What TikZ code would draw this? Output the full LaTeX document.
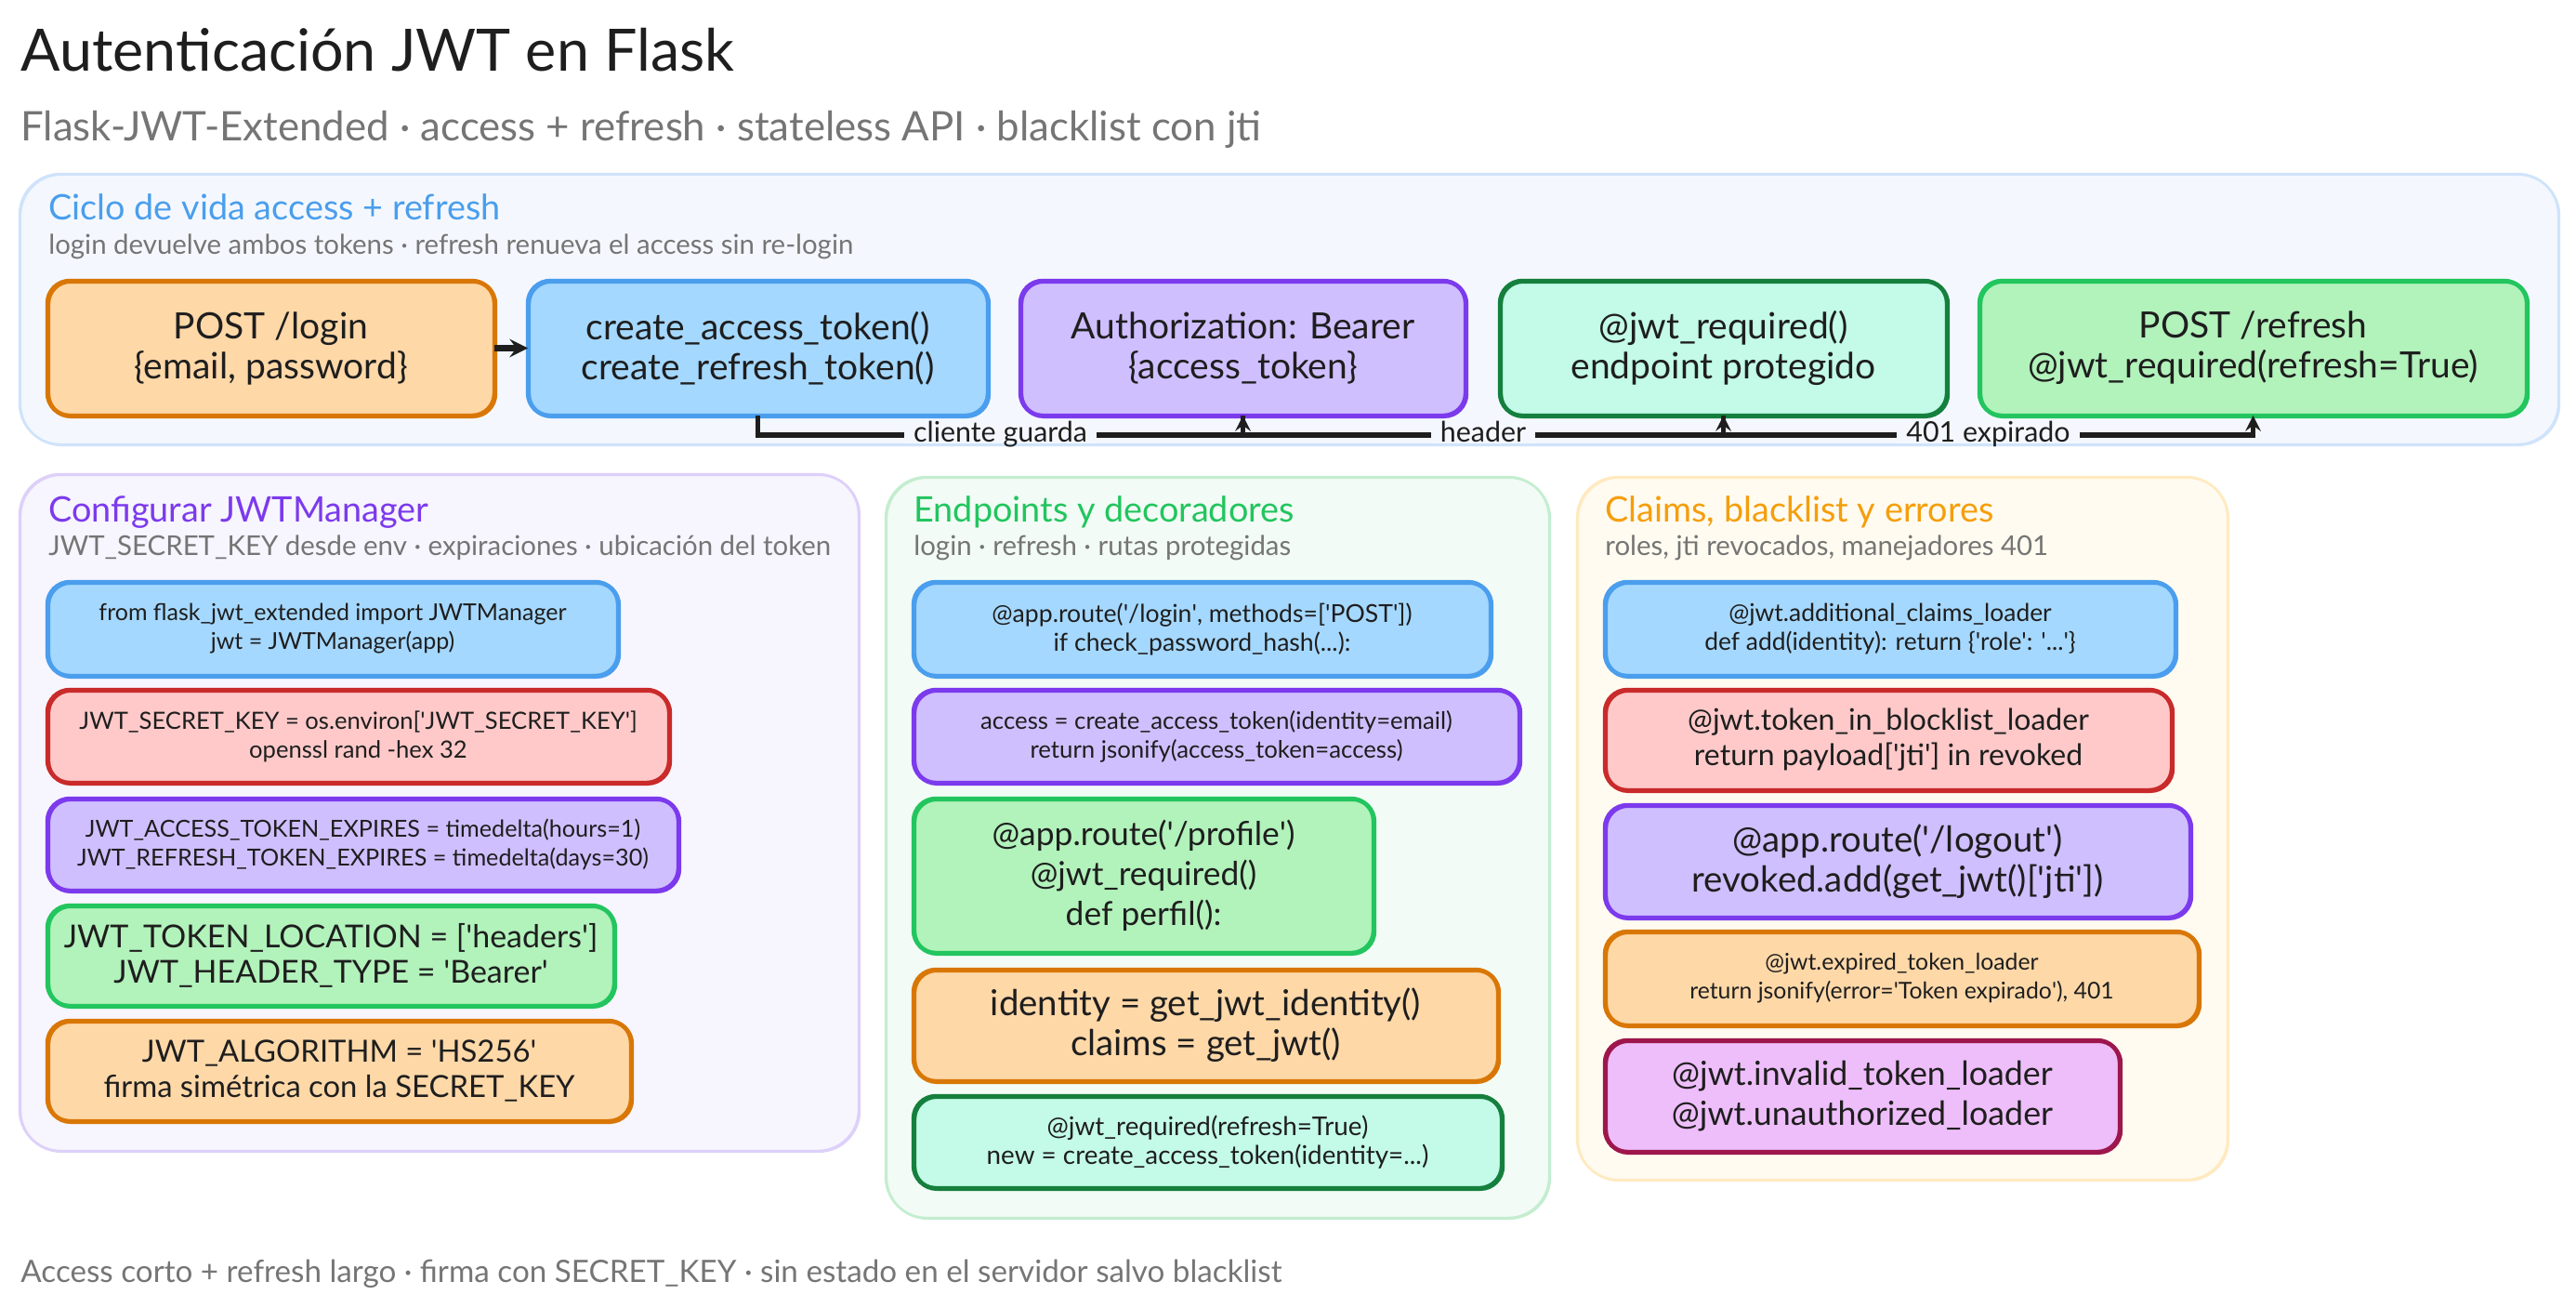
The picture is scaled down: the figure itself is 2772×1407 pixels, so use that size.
\documentclass[tikz,border=0pt]{standalone}
\usepackage{fontspec}
\setmainfont{Lato}
\usetikzlibrary{positioning}

\definecolor{ink}{HTML}{1E1E1E}
\definecolor{grayink}{HTML}{757575}
\definecolor{blueline}{HTML}{4A9EED}
\definecolor{bluefill}{HTML}{A5D8FF}
\definecolor{orangeline}{HTML}{D97706}
\definecolor{orangefill}{HTML}{FFD8A8}
\definecolor{purpleline}{HTML}{7C3AED}
\definecolor{purplefill}{HTML}{D0BFFF}
\definecolor{greenline}{HTML}{22C55E}
\definecolor{greenfill}{HTML}{B2F2BB}
\definecolor{tealline}{HTML}{15803D}
\definecolor{tealfill}{HTML}{C3FAE8}
\definecolor{redline}{HTML}{C92A2A}
\definecolor{redfill}{HTML}{FFC9C9}
\definecolor{pinkline}{HTML}{9D174D}
\definecolor{pinkfill}{HTML}{EEBEFA}
\definecolor{amberink}{HTML}{F59E0B}
\definecolor{flowbg}{HTML}{F4F8FE}
\definecolor{flowedge}{HTML}{CFE3FB}
\definecolor{cfgbg}{HTML}{F7F5FE}
\definecolor{cfgedge}{HTML}{DDD0F9}
\definecolor{apibg}{HTML}{F2FBF5}
\definecolor{apiedge}{HTML}{C4EDD0}
\definecolor{clmbg}{HTML}{FFFBF0}
\definecolor{clmedge}{HTML}{FFEAC0}

\newcommand{\qt}{\textquotesingle}

\tikzset{
  sketch/.style={postaction={draw, transform canvas={xshift=.5pt, yshift=-.4pt}}},
  frame/.style={anchor=north west, inner sep=0pt, outer sep=0pt, rounded corners=22pt,
    line width=1.2pt, sketch, minimum width=#1},
  card/.style={draw, anchor=north west, inner sep=0pt, outer sep=0pt, align=center,
    rounded corners=12pt, line width=2.2pt, sketch, text=ink},
  blue/.style={draw=blueline, fill=bluefill},
  orange/.style={draw=orangeline, fill=orangefill},
  purple/.style={draw=purpleline, fill=purplefill},
  green/.style={draw=greenline, fill=greenfill},
  teal/.style={draw=tealline, fill=tealfill},
  red/.style={draw=redline, fill=redfill},
  pink/.style={draw=pinkline, fill=pinkfill},
  code/.style 2 args={font=\fontsize{#1}{#2}\selectfont},
  head/.style={anchor=base west, inner sep=0pt, font=\fontsize{18.9}{22}\selectfont},
  note/.style={anchor=base west, inner sep=0pt, text=grayink, font=\fontsize{14.7}{17}\selectfont},
  tag/.style={fill=flowbg, inner xsep=5pt, inner ysep=0pt, text height=8pt, text depth=1pt,
    text=ink, font=\fontsize{15.2}{17}\selectfont},
  flow/.style={draw=ink, line width=2.6pt, ->},
}

\begin{document}
\begin{tikzpicture}[x=.5pt, y=-.5pt, >=stealth]

\useasboundingbox (0,0) rectangle (2772,1407);

% heading
\node [anchor=base west, inner sep=0pt, text=ink, font=\fontsize{31.4}{36}\selectfont] (title) at (22,77) {Autenticación JWT en Flask};
\node [anchor=base west, inner sep=0pt, text=grayink, font=\fontsize{21.9}{25}\selectfont] (subtitle) at (22,152) {Flask-JWT-Extended · access + refresh · stateless API · blacklist con jti};

% frames
\foreach \m/\x/\w/\y/\h/\c in {flow/21/2732/187/291/flow, cfg/21/903/510/728/cfg, api/953/714/513/797/api, clm/1697/700/513/756/clm}
  \node [frame=\w*.5pt, minimum height=\h*.5pt, draw=\c edge, fill=\c bg] (frame-\m) at (\x,\y) {};

% frame titles
\node [head, text=blueline] (head-flow) at (52,236) {Ciclo de vida access + refresh};
\node [note] (note-flow) at (52,273) {login devuelve ambos tokens · refresh renueva el access sin re-login};
\node [head, text=purpleline] (head-cfg) at (52,561) {Configurar JWTManager};
\node [note] (note-cfg) at (52,597) {JWT\_SECRET\_KEY desde env · expiraciones · ubicación del token};
\node [head, text=greenline] (head-api) at (983,561) {Endpoints y decoradores};
\node [note] (note-api) at (983,597) {login · refresh · rutas protegidas};
\node [head, text=amberink] (head-clm) at (1727,561) {Claims, blacklist y errores};
\node [note] (note-clm) at (1727,597) {roles, jti revocados, manejadores 401};

% flow
\foreach \m/\x/\w/\c/\l in {
  login/51/481/orange/{POST /login\\\{email, password\}},
  create/568/495/blue/{create\_access\_token()\\create\_refresh\_token()},
  bearer/1098/479/purple/{Authorization: Bearer\\\{access\_token\}},
  guard/1614/481/teal/{@jwt\_required()\\endpoint protegido},
  renew/2130/589/green/{POST /refresh\\@jwt\_required(refresh=True)}}
  \node [card, \c, code={19.5}{21.5}, minimum width=\w*.5pt, minimum height=72.5pt] (flow-\m) at (\x,302) {\l};

% config
\foreach \y/\w/\h/\c/\f/\g/\l [count=\i] in {
  626/614/101/blue/12.5/15.5/{from flask\_jwt\_extended import JWTManager\\jwt = JWTManager(app)},
  742/669/100/red/12.8/15.5/{JWT\_SECRET\_KEY = os.environ[\qt JWT\_SECRET\_KEY\qt]\\openssl rand -hex 32},
  859/679/99/purple/12.6/15.5/{JWT\_ACCESS\_TOKEN\_EXPIRES = timedelta(hours=1)\\JWT\_REFRESH\_TOKEN\_EXPIRES = timedelta(days=30)},
  974/610/108/green/17/19/{JWT\_TOKEN\_LOCATION = [\qt headers\qt]\\JWT\_HEADER\_TYPE = \qt Bearer\qt},
  1098/628/108/orange/16.4/19/{JWT\_ALGORITHM = \qt HS256\qt\\firma simétrica con la SECRET\_KEY}}
  \node [card, \c, code={\f}{\g}, minimum width=\w*.5pt, minimum height=\h*.5pt] (cfg-\i) at (51,\y) {\l};

% endpoints
\foreach \y/\w/\h/\c/\f/\g/\l [count=\i] in {
  626/621/101/blue/13.3/15.5/{@app.route(\qt/login\qt, methods=[\qt POST\qt])\\if check\_password\_hash(...):},
  742/652/100/purple/12.9/15.5/{access = create\_access\_token(identity=email)\\return jsonify(access\_token=access)},
  859/495/166/green/17.7/21.5/{@app.route(\qt/profile\qt)\\@jwt\_required()\\def perfil():},
  1043/629/120/orange/19.2/21.5/{identity = get\_jwt\_identity()\\claims = get\_jwt()},
  1179/633/99/teal/13.9/15.5/{@jwt\_required(refresh=True)\\new = create\_access\_token(identity=...)}}
  \node [card, \c, code={\f}{\g}, minimum width=\w*.5pt, minimum height=\h*.5pt] (api-\i) at (983,\y) {\l};

% claims
\foreach \y/\w/\h/\c/\f/\g/\l [count=\i] in {
  626/614/101/blue/13.2/15.5/{@jwt.additional\_claims\_loader\\def add(identity): return \{\qt role\qt: \qt...\qt\}},
  742/610/108/red/16/19/{@jwt.token\_in\_blocklist\_loader\\return payload[\qt jti\qt] in revoked},
  866/630/121/purple/19.2/21.5/{@app.route(\qt/logout\qt)\\revoked.add(get\_jwt()[\qt jti\qt])},
  1002/639/101/orange/12.4/15.5/{@jwt.expired\_token\_loader\\return jsonify(error=\qt Token expirado\qt), 401},
  1119/554/120/pink/17.9/21.5/{@jwt.invalid\_token\_loader\\@jwt.unauthorized\_loader}}
  \node [card, \c, code={\f}{\g}, minimum width=\w*.5pt, minimum height=\h*.5pt] (clm-\i) at (1727,\y) {\l};

% connectors
\draw [flow, line width=3.2pt] (flow-login) -- (flow-create);
\draw [flow] (flow-create.south) -- ++(0,21) -| node [pos=.25, tag] (tag-store) {cliente guarda} (flow-bearer.south);
\draw [flow] (flow-bearer.south) -- ++(0,21) -| node [pos=.25, tag] (tag-header) {header} (flow-guard.south);
\draw [flow] (flow-guard.south) -- ++(0,21) -| node [pos=.25, tag] (tag-expired) {401 expirado} (flow-renew.south);

% footer
\node [anchor=base west, inner sep=0pt, text=grayink, font=\fontsize{16.6}{19}\selectfont] (footer) at (22,1379) {Access corto + refresh largo · firma con SECRET\_KEY · sin estado en el servidor salvo blacklist};

\end{tikzpicture}
\end{document}
